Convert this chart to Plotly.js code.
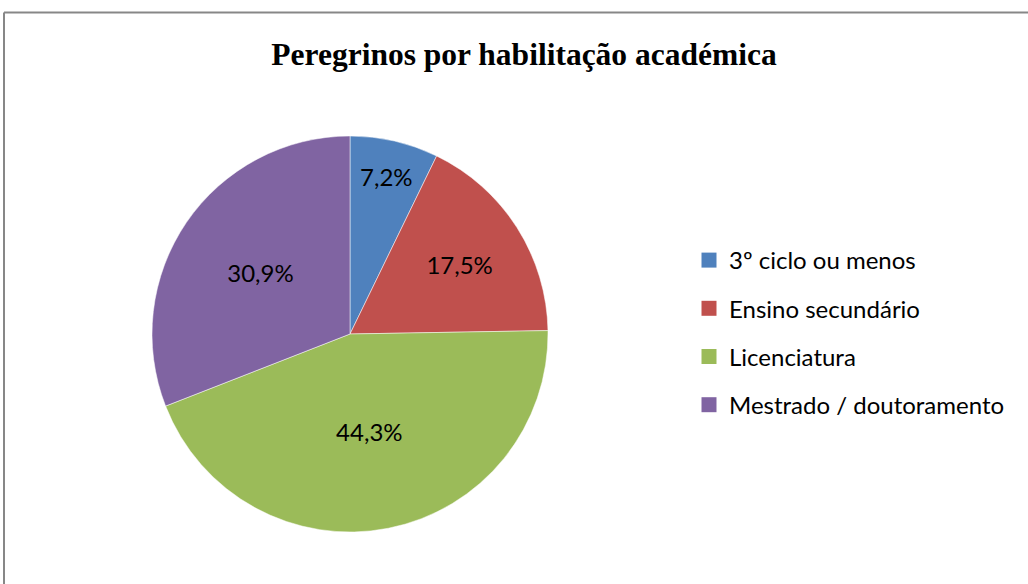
<!DOCTYPE html>
<html>
<head>
<meta charset="utf-8">
<script src="https://cdn.plot.ly/plotly-3.0.1.min.js"></script>
<style>html,body{margin:0;padding:0;background:#fff;}#chart{width:1028px;height:584px;}</style>
</head>
<body>
<div id="chart"></div>
<script>
var categories = ["3º ciclo ou menos", "Ensino secundário", "Licenciatura", "Mestrado / doutoramento"];
var values = [7.2, 17.5, 44.3, 30.9];
var valueLabels = ["7,2%", "17,5%", "44,3%", "30,9%"];
var colors = ["#4F81BD", "#C0504D", "#9BBB59", "#8064A2"];

var W = 1028, H = 584;
var cx = 350, cy = 334, r = 198;

var traces = [{
  type: "pie",
  labels: categories,
  values: values,
  text: valueLabels,
  textinfo: "text",
  textposition: "inside",
  insidetextorientation: "horizontal",
  sort: false,
  direction: "clockwise",
  rotation: 0,
  showlegend: false,
  hoverinfo: "label+text",
  marker: {colors: colors, line: {color: "#ffffff", width: 0.5}},
  textfont: {family: "Lato, 'Noto Sans', sans-serif", size: 24, color: "#000000"},
  domain: {x: [(cx - r) / W, (cx + r) / W], y: [1 - (cy + r) / H, 1 - (cy - r) / H]}
}];

categories.forEach(function (c, i) {
  traces.push({
    type: "scatter",
    mode: "markers",
    x: [null], y: [null],
    name: c,
    legendgroup: "g" + i,
    marker: {symbol: "square", size: 15, color: colors[i]},
    hoverinfo: "skip",
    showlegend: true
  });
});

var layout = {
  width: W, height: H,
  margin: {l: 0, r: 0, t: 0, b: 0},
  paper_bgcolor: "#ffffff",
  plot_bgcolor: "#ffffff",
  title: {
    text: "<b>Peregrinos por habilitação académica</b>",
    font: {family: "'Liberation Serif', 'Times New Roman', serif", size: 31.5, color: "#000000"},
    x: 524 / W, xanchor: "center",
    y: 1 - 54 / H, yanchor: "middle", yref: "paper"
  },
  xaxis: {visible: false},
  yaxis: {visible: false},
  showlegend: true,
  legend: {
    x: 689 / W, xanchor: "left",
    y: 1 - 238 / H, yanchor: "top",
    font: {family: "Lato, 'Noto Sans', sans-serif", size: 24, color: "#000000"},
    tracegroupgap: 14,
    itemwidth: 30,
    bgcolor: "rgba(0,0,0,0)",
    borderwidth: 0
  },
  shapes: [
    {type: "line", xref: "paper", yref: "paper", x0: 4 / W, x1: 1.01, y0: 1 - 12.5 / H, y1: 1 - 12.5 / H, line: {color: "#878787", width: 2}},
    {type: "line", xref: "paper", yref: "paper", x0: 4 / W, x1: 4 / W, y0: 1 - 12.5 / H, y1: -0.01, line: {color: "#878787", width: 2}}
  ]
};

Plotly.newPlot("chart", traces, layout, {displayModeBar: false, staticPlot: true});
</script>
</body>
</html>
